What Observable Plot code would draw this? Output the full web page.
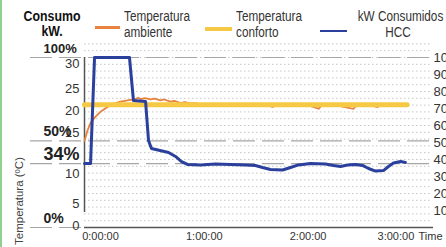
<!DOCTYPE html>
<html>
<head>
<meta charset="utf-8">
<script src="https://cdn.jsdelivr.net/npm/d3@7"></script>
<script src="https://cdn.jsdelivr.net/npm/@observablehq/plot@0.6"></script>
<style>
  html, body { margin: 0; padding: 0; background: #fff; }
  #wrap { position: relative; width: 446px; height: 247px; overflow: hidden; background: #fff; }
  #wrap svg { position: absolute; left: 0; top: 0; }
  .ov { position: absolute; white-space: nowrap; color: #333; font-family: "Liberation Sans", Arial, sans-serif; }
  .title { left: 12px; top: 9px; width: 80px; text-align: center; font-weight: bold; font-size: 14.5px; line-height: 15px; color: #111; transform: scaleX(0.85); transform-origin: 50% 50%; }
  .leg { font-size: 14px; line-height: 16px; top: 8px; transform: scaleX(0.84); transform-origin: 0 0; }
  .legc { transform-origin: 50% 0; }
  .sw { position: absolute; }
  .ytitle { left: 19px; top: 201px; transform: translate(-50%, -50%) rotate(-90deg); font-size: 11.5px; color: #444; }
  .edge { position: absolute; left: 0; top: 0; width: 2px; height: 247px; background: #8fd08f; }
</style>
</head>
<body>
<div id="wrap">
  <div class="edge"></div>
</div>
<script>
// ---- data ----
// time in minutes since start
const blueTime = [0, 3.5, 5.8, 26.0, 28.3, 35.3, 37.0, 38.7, 48.6, 52.6, 56.1, 59.5, 67.1, 75.7, 84.4, 93.1, 98.8, 102.9, 107.5, 114.5, 119.1, 123.7, 130.6, 139.3, 143.9, 148.0, 152.0, 156.6, 160.7, 164.2, 168.2, 172.8, 175.7, 178.6, 182.7, 185.5];
// kW consumed by HCC, % (right axis)
const blueKw = [37.6, 37.6, 100, 100, 74.7, 74.1, 51.2, 46.5, 44.1, 41.8, 38.8, 37.1, 36.8, 37.4, 37.1, 36.8, 36.5, 35.3, 34.1, 33.8, 35.3, 36.8, 37.6, 37.4, 36.5, 35.9, 36.8, 37.1, 36.5, 34.7, 33.2, 33.5, 35.9, 37.9, 38.8, 38.2];

// ambient temperature, °C
const ambTime = [0, 1.7, 3.5, 6.4, 9.2, 13.3, 16.8, 20.8, 26.6, 29.5, 31.0, 32.4, 35.0, 38.2, 40.5, 43.9, 46.0, 49.7, 52.0, 55.5, 58.0, 61.3, 64.0, 67.1, 72, 80, 90, 100, 106, 108.7, 111, 120, 130, 135.3, 137, 145, 155.5, 157, 165, 169.4, 171, 178, 182.7, 185.5];
const ambTemp = [14.0, 15.4, 17.2, 18.6, 19.7, 20.8, 21.5, 22.0, 22.4, 22.6, 22.9, 22.6, 22.8, 22.5, 22.7, 22.3, 22.5, 22.0, 22.2, 21.7, 21.9, 21.6, 21.7, 21.4, 21.2, 21.3, 21.1, 21.2, 21.1, 20.8, 21.1, 21.2, 21.1, 20.4, 21.1, 21.2, 20.4, 21.1, 21.2, 20.8, 21.1, 21.2, 21.0, 21.1];

// comfort temperature, °C
const comfTime = [0, 186.5];
const comfTemp = [21.3, 21.3];

// axes
const timeTicks = [0, 60, 120, 180];
const tempTicks = [0, 5, 10, 15, 20, 25, 30];                   // left axis labels (°C)
const tempTickLevel = [1.2, 14.1, 31.8, 55.9, 68.8, 81.8, 96.5]; // where each °C label sits on the % scale
const rightTicks = [10, 20, 30, 40, 50, 60, 70, 80, 90, 100];
const refLabels = ["100%", "50%", "34%", "0%"];                  // Consumo kW. marks
const refLevels = [100, 51, 37.6, 0];

// ---- build ----
const toPct = d3.scaleLinear().domain(tempTicks).range(tempTickLevel);
const blue = blueTime.map((t, i) => ({t, v: blueKw[i]}));
const amb = ambTime.map((t, i) => ({t, v: toPct(ambTemp[i])}));
const comf = comfTime.map((t, i) => ({t, v: toPct(comfTemp[i])}));
const gridLevels = d3.range(4, 112, 4);
const fmtTime = m => `${Math.floor(m / 60)}:${String(m % 60).padStart(2, "0")}:00`;
const lastTick = timeTicks[timeTicks.length - 1];

const ORANGE = "#e8823f", YELLOW = "#f6c944", BLUE = "#2b409c";

const chart = Plot.plot({
  width: 446,
  height: 247,
  marginLeft: 84,
  marginRight: 16,
  marginTop: 57,
  marginBottom: 20,
  x: {domain: [0, 200], axis: null},
  y: {domain: [0, 100], axis: null},
  style: {fontFamily: "'Liberation Sans', Arial, sans-serif", background: "transparent", color: "#333"},
  marks: [
    Plot.ruleY(gridLevels, {y: d => d, stroke: "#c6c6c6", strokeWidth: 1, strokeDasharray: "1.5,2.5"}),
    Plot.ruleY(refLevels, {y: d => d, stroke: "#a6a6a6", strokeWidth: 1.2, strokeDasharray: "22,7", insetLeft: -54, insetRight: -3}),
    Plot.ruleX([0], {x: d => d, y1: 0, y2: 100, insetTop: -15, stroke: "#555", strokeWidth: 1.5}),
    Plot.ruleY([0], {y: d => d, stroke: "#555", strokeWidth: 1.5, insetRight: -3}),
    // left temperature labels
    Plot.text(tempTicks, {y: d => toPct(d), text: d => String(d), frameAnchor: "left", dx: -5, textAnchor: "end", fontSize: 13, fill: "#333"}),
    // right % labels (clipped by the picture edge, as in the reference)
    Plot.text(rightTicks, {y: d => d, text: d => String(d), frameAnchor: "right", dx: 3, textAnchor: "start", fontSize: 13, fill: "#333"}),
    // time labels
    Plot.text(timeTicks.filter(d => d !== lastTick), {x: d => d, text: fmtTime, frameAnchor: "bottom", dx: 16, dy: 12, fontSize: 11, fill: "#333"}),
    Plot.text([lastTick], {x: d => d, text: fmtTime, frameAnchor: "bottom", dy: 12, fontSize: 11, fill: "#333"}),
    Plot.text(["Time"], {frameAnchor: "bottom-right", dx: -12, dy: 12, textAnchor: "start", fontSize: 11, fill: "#333"}),
    // consumption % marks
    Plot.text(refLabels, {y: (d, i) => refLevels[i], text: d => d, frameAnchor: "left", dx: -41, dy: -9, fontWeight: "bold", fontSize: d => d === "34%" ? 18 : d === "100%" ? 13 : 14, fill: "#222"}),
    // series
    Plot.line(amb, {x: "t", y: "v", stroke: ORANGE, strokeWidth: 1.8}),
    Plot.line(comf, {x: "t", y: "v", stroke: YELLOW, strokeWidth: 5}),
    Plot.line(blue, {x: "t", y: "v", stroke: BLUE, strokeWidth: 3, strokeLinejoin: "round"})
  ]
});

const wrap = document.getElementById("wrap");
wrap.appendChild(chart);

function add(html, cls, style) {
  const d = document.createElement("div");
  d.className = cls;
  if (html != null) d.innerHTML = html;
  Object.assign(d.style, style || {});
  wrap.appendChild(d);
  return d;
}
add("Consumo<br>kW.", "ov title");
add(null, "sw", {left: "95px", top: "26px", width: "25px", height: "2.5px", background: ORANGE});
add("Temperatura<br>ambiente", "ov leg", {left: "124px"});
add(null, "sw", {left: "205px", top: "27px", width: "27px", height: "4px", background: YELLOW});
add("Temperatura<br>conforto", "ov leg", {left: "236px"});
add(null, "sw", {left: "320px", top: "30px", width: "27px", height: "2px", background: BLUE});
add("kW Consumidos<br>HCC", "ov leg legc", {left: "350px", width: "96px", textAlign: "center"});
add("Temperatura (ºC)", "ov ytitle");
</script>
</body>
</html>
